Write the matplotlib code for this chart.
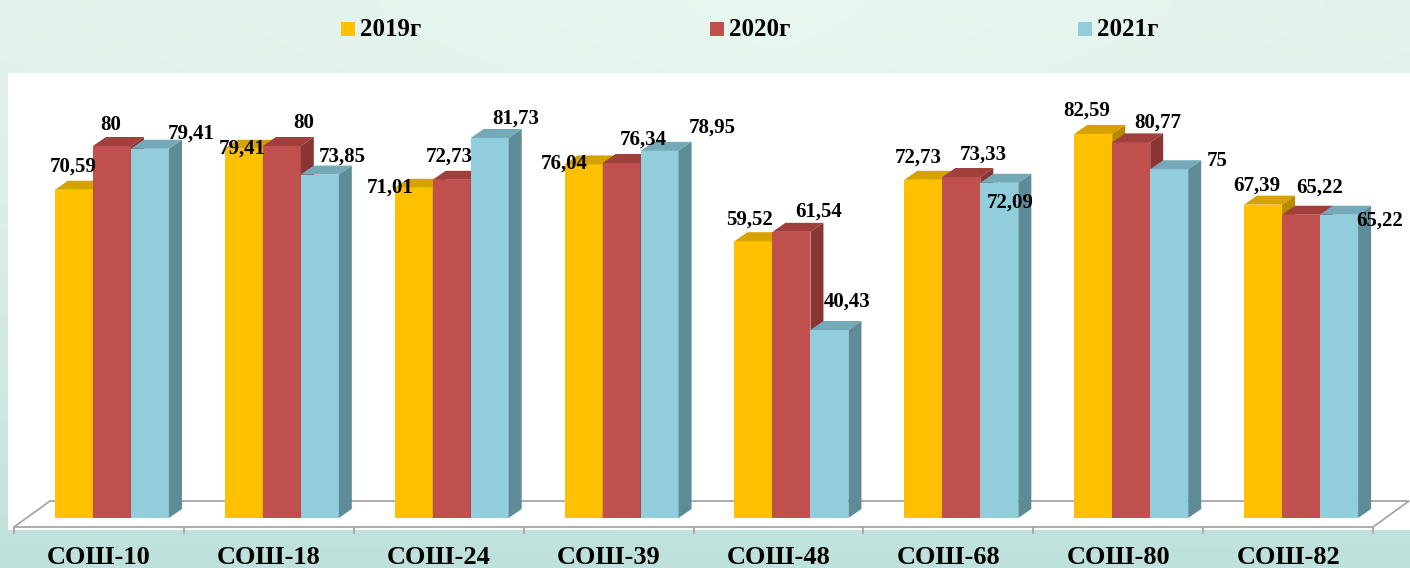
import numpy as np
import matplotlib
matplotlib.use("Agg")
import matplotlib.pyplot as plt
from matplotlib.patches import Polygon, Rectangle

plt.rcParams['font.family'] = ['Liberation Serif', 'DejaVu Serif']
plt.rcParams['font.weight'] = 'bold'

schools = ["СОШ-10", "СОШ-18", "СОШ-24", "СОШ-39", "СОШ-48", "СОШ-68", "СОШ-80", "СОШ-82"]
years = ["2019г", "2020г", "2021г"]
v2019 = [70.59, 79.41, 71.01, 76.04, 59.52, 72.73, 82.59, 67.39]
v2020 = [80, 80, 72.73, 76.34, 61.54, 73.33, 80.77, 65.22]
v2021 = [79.41, 73.85, 81.73, 78.95, 40.43, 72.09, 75, 65.22]
series = [v2019, v2020, v2021]

# front / top / side shades for each year
front = ["#FFC000", "#C0504D", "#92CDDC"]
top = ["#D6A200", "#A13F3C", "#74A9B8"]
side = ["#B88A00", "#8A3533", "#5E8B98"]

# label nudges in pixels (dx, dy) from the top centre of each bar, per school
nudges = [
    [(-1, 23), (-1, 21), (41, 15)],
    [(-2, 0), (22, 23), (22, 18)],
    [(-24, 0), (-2, 23), (26, 19)],
    [(-19, 1), (22, 23), (53, 23)],
    [(-4, 22), (27, 20), (18, 28)],
    [(-5, 22), (22, 22), (11, -20)],
    [(-6, 23), (27, 20), (48, 8)],
    [(-6, 19), (19, 27), (41, -6)],
]

W, H = 1410, 568
fig = plt.figure(figsize=(W / 100, H / 100), dpi=100)

# soft mint background
bg = fig.add_axes([0, 0, 1, 1], zorder=0)
yy = np.linspace(0, 1, H)[:, None]
xx = np.linspace(0, 1, W)[None, :]
c_top = np.array([228, 242, 236]) / 255
c_bot = np.array([190, 225, 219]) / 255
t = (yy ** 1.5)[..., None] * np.ones((1, W, 1))
img = c_top * (1 - t) + c_bot * t
img = img + (0.03 * (1 - np.abs(xx - 0.55) * 2))[..., None] * (1 - t) * 0.6
bg.imshow(np.clip(img, 0, 1), aspect='auto', extent=[0, 1, 0, 1])
bg.set_xlim(0, 1)
bg.set_ylim(0, 1)
bg.axis('off')

# white plot area
fig.patches.append(Rectangle((8 / W, (H - 530) / H), 1 - 8 / W, (530 - 73) / H,
                             transform=fig.transFigure, facecolor="white",
                             edgecolor="none", zorder=1))

ax = fig.add_axes([14 / W, 50 / H, 1359 / W, 465 / H], zorder=2)
ax.set_xlim(-0.5, 7.5)
ax.set_ylim(0, 100)
ax.axis('off')

px_x = 8 / 1359   # data units per pixel
px_y = 100 / 465

# floor
fdx = 36 * px_x
fy0, fy1 = -9 * px_y, 17 * px_y
floor = Polygon([(-0.5, fy0), (7.5, fy0), (7.5 + fdx, fy1), (-0.5 + fdx, fy1)],
                closed=True, facecolor="white", edgecolor="#A6A6A6", lw=1.3,
                clip_on=False, zorder=1)
ax.add_patch(floor)
for k in range(len(schools) + 1):
    ax.plot([k - 0.5, k - 0.5], [fy0, fy0 - 6 * px_y], color="#A6A6A6", lw=1.3,
            clip_on=False, zorder=1)

bw = 38 * px_x
ddx, ddy = 13 * px_x, 9 * px_y
shift = 13 * px_x
x = np.arange(len(schools))

for g in range(len(schools)):
    for s in range(3):
        v = series[s][g]
        xc = x[g] + shift + (s - 1) * bw
        l, r = xc - bw / 2, xc + bw / 2
        ax.bar(xc, v, width=bw, color=front[s], zorder=3 + g, linewidth=0)
        ax.add_patch(Polygon([(l, v), (r, v), (r + ddx, v + ddy), (l + ddx, v + ddy)],
                             closed=True, facecolor=top[s], edgecolor="none",
                             zorder=3 + g))
        ax.add_patch(Polygon([(r, 0), (r + ddx, ddy), (r + ddx, v + ddy), (r, v)],
                             closed=True, facecolor=side[s], edgecolor="none",
                             zorder=3 + g))
        label = f"{v:g}".replace('.', ',')
        dx, dy = nudges[g][s]
        ax.annotate(label, (xc, v), xytext=(dx, dy), textcoords='offset pixels',
                    ha='center', va='center', fontsize=15, fontweight='bold',
                    color="black", zorder=20, annotation_clip=False)

for g, name in enumerate(schools):
    fig.text((14 + 169.9 * g + 85) / W, (H - 557) / H, name, ha='center', va='center',
             fontsize=19, fontweight='bold', color="black", zorder=5)

# legend
for s, yr in enumerate(years):
    sx = 341 + 368.5 * s
    fig.patches.append(Rectangle((sx / W, (H - 36) / H), 14 / W, 14 / H,
                                 transform=fig.transFigure, facecolor=front[s],
                                 edgecolor="none", zorder=5))
    fig.text((sx + 19) / W, (H - 29) / H, yr, ha='left', va='center',
             fontsize=18, fontweight='bold', color="black", zorder=5)

fig.savefig("out.png", dpi=100)
